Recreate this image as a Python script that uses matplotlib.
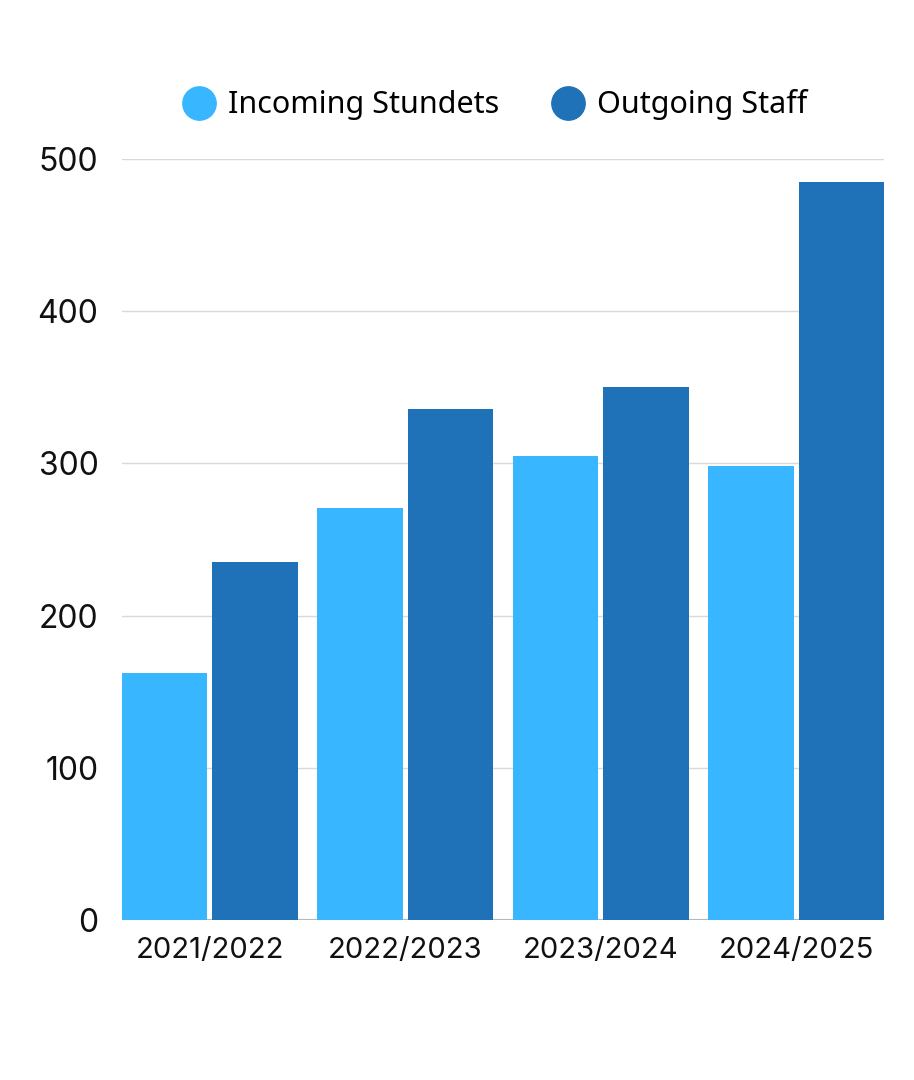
import numpy as np
import matplotlib
matplotlib.use('Agg')
import matplotlib.pyplot as plt
from matplotlib.lines import Line2D

# data
years = ['2021/2022', '2022/2023', '2023/2024', '2024/2025']
incoming_students = [162, 271, 305, 298]
outgoing_staff = [235, 336, 350, 485]

light_blue = '#38B6FF'
dark_blue = '#1F71B8'

fig = plt.figure(figsize=(9.14, 10.8), dpi=100)
ax = fig.add_axes([0.1335, 0.1481, 0.8337, 0.7047])

x = np.arange(len(years))
w = 0.438
off = 0.2317
ax.bar(x - off, incoming_students, width=w, color=light_blue, zorder=2)
ax.bar(x + off, outgoing_staff, width=w, color=dark_blue, zorder=2)

ax.set_xlim(-0.45, len(years) - 1 + 0.45)
ax.set_ylim(0, 500)
ax.set_yticks([0, 100, 200, 300, 400, 500])
ax.yaxis.grid(True, color='#d9d9d9', linewidth=1, zorder=0)
ax.axhline(0, color='#b0b0b0', linewidth=1.5, zorder=1)

for s in ax.spines.values():
    s.set_visible(False)
ax.tick_params(axis='both', length=0, labelsize=21, labelcolor='#111111')
ax.tick_params(axis='y', labelsize=23, pad=17)
ax.tick_params(axis='x', pad=12)
ax.set_xticks(x)
ax.set_xticklabels(years)
for lbl in ax.get_xticklabels() + ax.get_yticklabels():
    lbl.set_family('Inter')

handles = [
    Line2D([], [], marker='o', linestyle='none', markersize=24, color=light_blue),
    Line2D([], [], marker='o', linestyle='none', markersize=24, color=dark_blue),
]
fig.legend(handles, ['Incoming Stundets', 'Outgoing Staff'], loc='center',
           bbox_to_anchor=(0.5418, 0.903), ncol=2, frameon=False,
           prop={'family': 'Noto Sans', 'size': 22}, handletextpad=0.45,
           columnspacing=1.75, handlelength=1.0)

fig.savefig('out.png', dpi=100, facecolor='white')
